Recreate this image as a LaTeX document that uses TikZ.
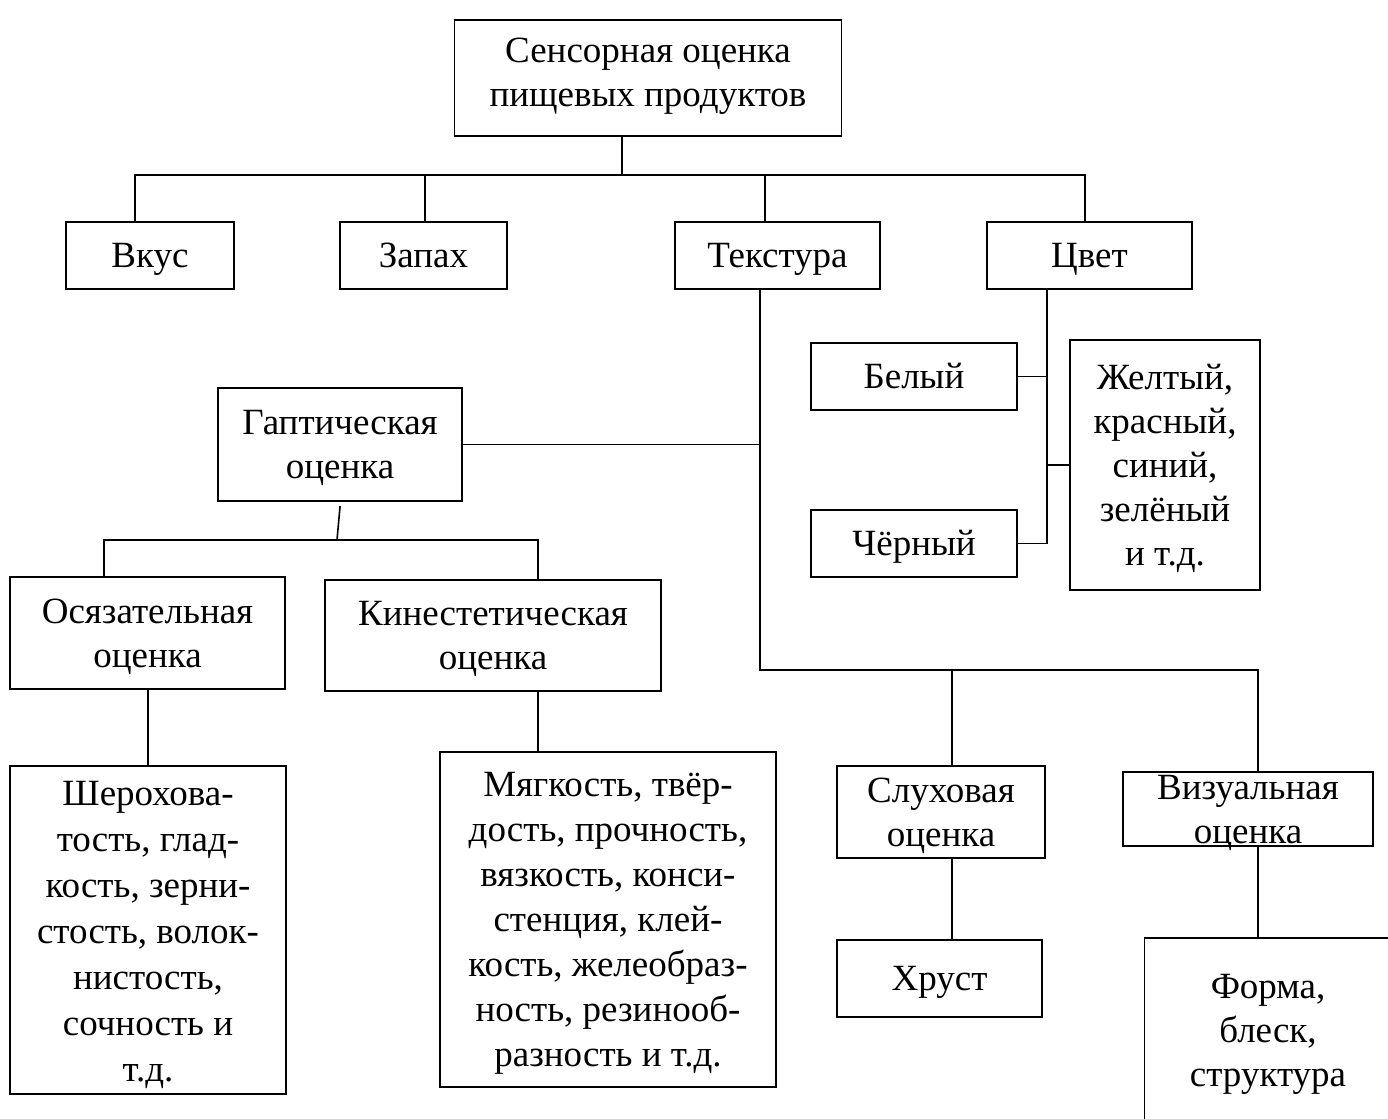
\documentclass[tikz,border=0pt]{standalone}
\usepackage{fontspec}
\setmainfont{Liberation Serif}
\begin{document}
\begin{tikzpicture}[x=1pt,y=-1pt,
  box/.style={draw, line width=1.6pt, align=center, inner sep=0pt,
    font=\fontsize{37}{44}\selectfont, text height=24.5pt, text depth=0pt},
  two/.style={text height=68.5pt},
  three/.style={text height=112.5pt},
  five/.style={text height=200.5pt},
  seven/.style={text height=288.5pt},
  conn/.style={line width=1.6pt, line cap=rect}]
\useasboundingbox (0,0) rectangle (1388,1118);
\clip (0,0) rectangle (1388,1118);
% nodes
\node[box, two, text depth=12pt, minimum width=387, minimum height=116] (top) at (648,78) {Сенсорная оценка\\пищевых продуктов};
\node[box, minimum width=168, minimum height=67] (vkus) at (150,255.5) {Вкус};
\node[box, minimum width=167, minimum height=67] (zapah) at (423.5,255.5) {Запах};
\node[box, minimum width=205, minimum height=67] (tekst) at (777.5,255.5) {Текстура};
\node[box, minimum width=205, minimum height=67] (cvet) at (1089.5,255.5) {Цвет};
\node[box, two, minimum width=244, minimum height=113] (gapt) at (340,444.5) {Гаптическая\\оценка};
\node[box, two, minimum width=275, minimum height=112] (osyaz) at (147.5,633) {Осязательная\\оценка};
\node[box, two, minimum width=336, minimum height=111] (kin) at (493,635.5) {Кинестетическая\\оценка};
\node[box, font=\fontsize{37}{46}\selectfont, text height=302pt, minimum width=276, minimum height=328] (sher) at (148,930) {Шерохова-\\тость, глад-\\кость, зерни-\\стость, волок-\\нистость,\\сочность и\\т.д.};
\node[box, font=\fontsize{37}{45}\selectfont, text height=294.5pt, minimum width=336, minimum height=335] (myag) at (608,919.5) {Мягкость, твёр-\\дость, прочность,\\вязкость, конси-\\стенция, клей-\\кость, желеобраз-\\ность, резинооб-\\разность и т.д.};
\node[box, two, minimum width=208, minimum height=92] (sluh) at (941,812) {Слуховая\\оценка};
\node[box, two, minimum width=250, minimum height=74] (viz) at (1248,809) {Визуальная\\оценка};
\node[box, minimum width=205, minimum height=77] (hrust) at (939.5,978.5) {Хруст};
\node[box, minimum width=206, minimum height=67] (bel) at (914,376.5) {Белый};
\node[box, minimum width=206, minimum height=67] (cher) at (914,543.5) {Чёрный};
\node[box, five, minimum width=190, minimum height=250] (zhelt) at (1165,465) {Желтый,\\красный,\\синий,\\зелёный\\и т.д.};
\node[box, three, minimum width=247, minimum height=184] (forma) at (1268,1030) {Форма,\\блеск,\\структура};
% connectors
\coordinate (g1) at (340,507);
\coordinate (g2) at (337,540);
\draw[conn] (622,0 |- top.south) -- (622,175);
\draw[conn] (135,0 |- vkus.north) -- (135,175) -- (1085,175) -- (1085,0 |- cvet.north);
\draw[conn] (425,175) -- (425,0 |- zapah.north);
\draw[conn] (765,175) -- (765,0 |- tekst.north);
\draw[conn] (760,0 |- tekst.south) -- (760,670) -- (1258,670) -- (1258,0 |- viz.north);
\draw[conn] (gapt.east) -- (760,0 |- gapt.east);
\draw[conn] (952,670) -- (952,0 |- sluh.north);
\draw[conn] (952,0 |- sluh.south) -- (952,0 |- hrust.north);
\draw[conn] (1258,0 |- viz.south) -- (1258,0 |- forma.north);
\draw[conn] (g1) -- (g2);
\draw[conn] (104,0 |- osyaz.north) -- (104,540) -- (538,540) -- (538,0 |- kin.north);
\draw[conn] (148,0 |- osyaz.south) -- (148,0 |- sher.north);
\draw[conn] (538,0 |- kin.south) -- (538,0 |- myag.north);
\draw[conn] (1047,0 |- cvet.south) -- (1047,0 |- cher.east) -- (cher.east);
\draw[conn] (bel.east) -- (1047,0 |- bel.east);
\draw[conn] (zhelt.west) -- (1047,0 |- zhelt.west);
\end{tikzpicture}
\end{document}
